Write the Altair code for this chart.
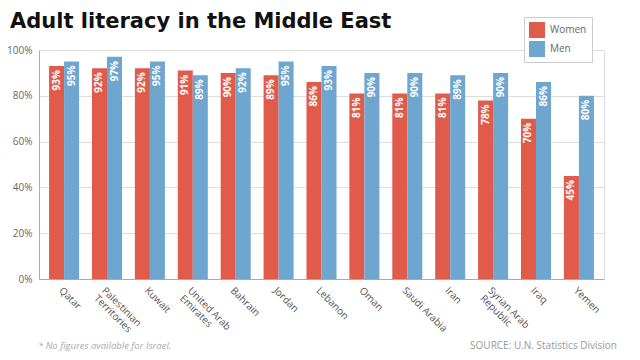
import altair as alt
import pandas as pd

countries = ["Qatar", "Palestinian|Territories", "Kuwait", "United Arab|Emirates", "Bahrain",
             "Jordan", "Lebanon", "Oman", "Saudi Arabia", "Iran", "Syrian Arab|Republic", "Iraq", "Yemen"]
women = [93, 92, 92, 91, 90, 89, 86, 81, 81, 81, 78, 70, 45]
men = [95, 97, 95, 89, 92, 95, 93, 90, 90, 89, 90, 86, 80]
sexes = ["Women", "Men"]
colors = ["#E15B4B", "#6FA6D0"]
y_ticks = [0, 20, 40, 60, 80, 100]

rows = []
for c, w, m in zip(countries, women, men):
    rows.append({"country": c, "sex": "Women", "value": w})
    rows.append({"country": c, "sex": "Men", "value": m})
df = pd.DataFrame(rows)

FONT = "Open Sans"

base = alt.Chart(df).encode(
    x=alt.X("country:N", sort=countries,
            scale=alt.Scale(paddingInner=0.30, paddingOuter=0.235),
            axis=alt.Axis(title=None, labelAngle=45, labelAlign="left", labelBaseline="top",
                          ticks=False, domainColor="#aaaaaa", labelColor="#555555",
                          labelFontSize=10, labelFont=FONT, labelPadding=6, labelLineHeight=11,
                          labelExpr="split(datum.label, '|')")),
    xOffset=alt.XOffset("sex:N", sort=sexes),
    y=alt.Y("value:Q", scale=alt.Scale(domain=[0, 100]),
            axis=alt.Axis(title=None, values=y_ticks, labelExpr="datum.value + '%'",
                          ticks=False, domainColor="#aaaaaa", gridColor="#dddddd",
                          labelColor="#666666", labelFontSize=10, labelFont=FONT, labelPadding=7)),
)

bars = base.mark_bar().encode(
    color=alt.Color("sex:N", sort=sexes, scale=alt.Scale(domain=sexes, range=colors),
                    legend=alt.Legend(title=None, orient="none", legendX=485, legendY=-33,
                                      padding=5, strokeColor="#cccccc", fillColor="white",
                                      symbolType="square", symbolSize=256, symbolStrokeWidth=0,
                                      symbolOpacity=1, labelFontSize=10, labelFont=FONT,
                                      labelColor="#666666", rowPadding=3, labelOffset=5))
)

labels = base.transform_calculate(lbl="datum.value + '%'").mark_text(
    angle=270, align="right", baseline="middle", dx=-4, color="white",
    fontWeight="bold", fontSize=10, font=FONT).encode(text="lbl:N")

ann = pd.DataFrame({"a": [0]})
title = alt.Chart(ann).mark_text(align="left", baseline="alphabetic", fontSize=21,
                                 fontWeight="bold", font="DejaVu Sans", color="#111111").encode(
    x=alt.value(-29), y=alt.value(-22), text=alt.value("Adult literacy in the Middle East"))
foot = alt.Chart(ann).mark_text(align="left", baseline="middle", fontSize=9.5, fontStyle="italic",
                                font=FONT, color="#aaaaaa").encode(
    x=alt.value(-1), y=alt.value(296), text=alt.value("* No figures available for Israel."))
source = alt.Chart(ann).mark_text(align="right", baseline="middle", fontSize=10,
                                  font=FONT, color="#999999").encode(
    x=alt.value(578), y=alt.value(296), text=alt.value("SOURCE: U.N. Statistics Division"))

chart = alt.layer(bars, labels, title, foot, source).properties(
    width=565, height=229,
    autosize=alt.AutoSizeParams(type="none"),
    padding={"left": 31, "top": 42, "right": 28, "bottom": 73},
).configure_view(stroke=None).configure(background="white")

chart.save("out.html", embed_options={"renderer": "svg", "actions": False})
